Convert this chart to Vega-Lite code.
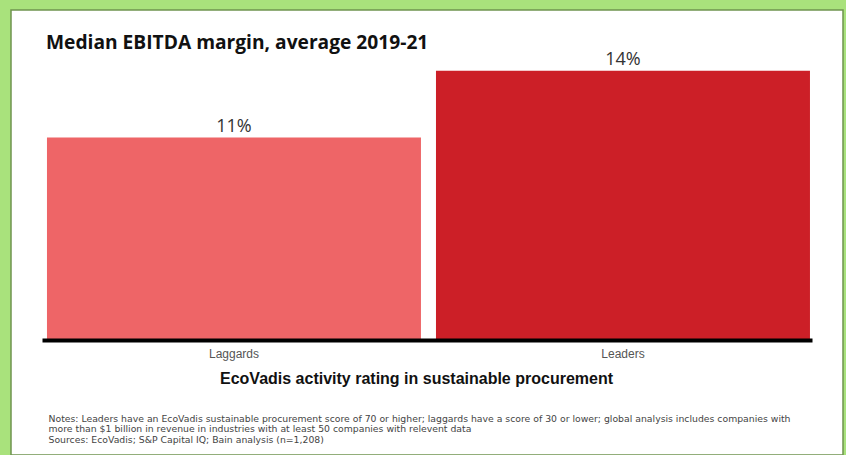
{
  "$schema": "https://vega.github.io/schema/vega-lite/v6.json",
  "width": 832,
  "height": 445,
  "autosize": {"type": "none"},
  "padding": {"left": 11, "top": 10, "right": 3, "bottom": 0},
  "background": "#a9e27c",
  "config": {
    "view": {"fill": "#ffffff", "stroke": "#6f944f", "strokeWidth": 1.5}
  },
  "title": {
    "text": "Median EBITDA margin, average 2019-21",
    "anchor": "start",
    "frame": "group",
    "offset": -58.5,
    "dx": 35,
    "baseline": "alphabetic",
    "font": "Open Sans",
    "fontSize": 19.2,
    "fontWeight": "bold",
    "color": "#111111"
  },
  "data": {
    "values": [
      {"rating": "Laggards", "margin": 10.6, "label": "11%"},
      {"rating": "Leaders", "margin": 14.1, "label": "14%"}
    ]
  },
  "encoding": {
    "x": {
      "field": "rating",
      "type": "nominal",
      "sort": null,
      "scale": {"range": [31, 801], "paddingInner": 0.0386, "paddingOuter": 0.009, "align": 0.71},
      "axis": {
        "orient": "bottom",
        "offset": -115,
        "zindex": 1,
        "grid": false,
        "domainColor": "#000000",
        "domainWidth": 4,
        "ticks": false,
        "labelAngle": 0,
        "labelFont": "Liberation Sans",
        "labelFontSize": 12,
        "labelColor": "#555555",
        "labelPadding": 8,
        "title": "EcoVadis activity rating in sustainable procurement",
        "titleFont": "Liberation Sans",
        "titleFontSize": 16,
        "titleFontWeight": "bold",
        "titleColor": "#111111",
        "titlePadding": 11,
        "titleX": 405
      }
    },
    "y": {
      "field": "margin",
      "type": "quantitative",
      "scale": {"domain": [-6.02, 17.28], "nice": false, "zero": false},
      "axis": {
        "domain": false,
        "ticks": false,
        "labels": false,
        "grid": false,
        "title": [
          "Notes: Leaders have an EcoVadis sustainable procurement score of 70 or higher; laggards have a score of 30 or lower; global analysis includes companies with",
          "more than $1 billion in revenue in industries with at least 50 companies with relevent data",
          "Sources: EcoVadis; S&P Capital IQ; Bain analysis (n=1,208)"
        ],
        "titleAngle": 0,
        "titleAlign": "left",
        "titleBaseline": "alphabetic",
        "titleX": 37,
        "titleY": 411,
        "titleFont": "DejaVu Sans",
        "titleFontSize": 9.3,
        "titleFontWeight": "normal",
        "titleColor": "#444444",
        "titleLineHeight": 10.5
      }
    }
  },
  "layer": [
    {
      "mark": {"type": "bar"},
      "encoding": {
        "color": {
          "field": "rating",
          "type": "nominal",
          "scale": {"domain": ["Laggards", "Leaders"], "range": ["#ee6567", "#cc1f27"]},
          "legend": null
        }
      }
    },
    {
      "mark": {"type": "text", "dy": -6, "baseline": "alphabetic", "font": "Open Sans", "fontSize": 18, "color": "#333333"},
      "encoding": {"text": {"field": "label"}}
    }
  ]
}
